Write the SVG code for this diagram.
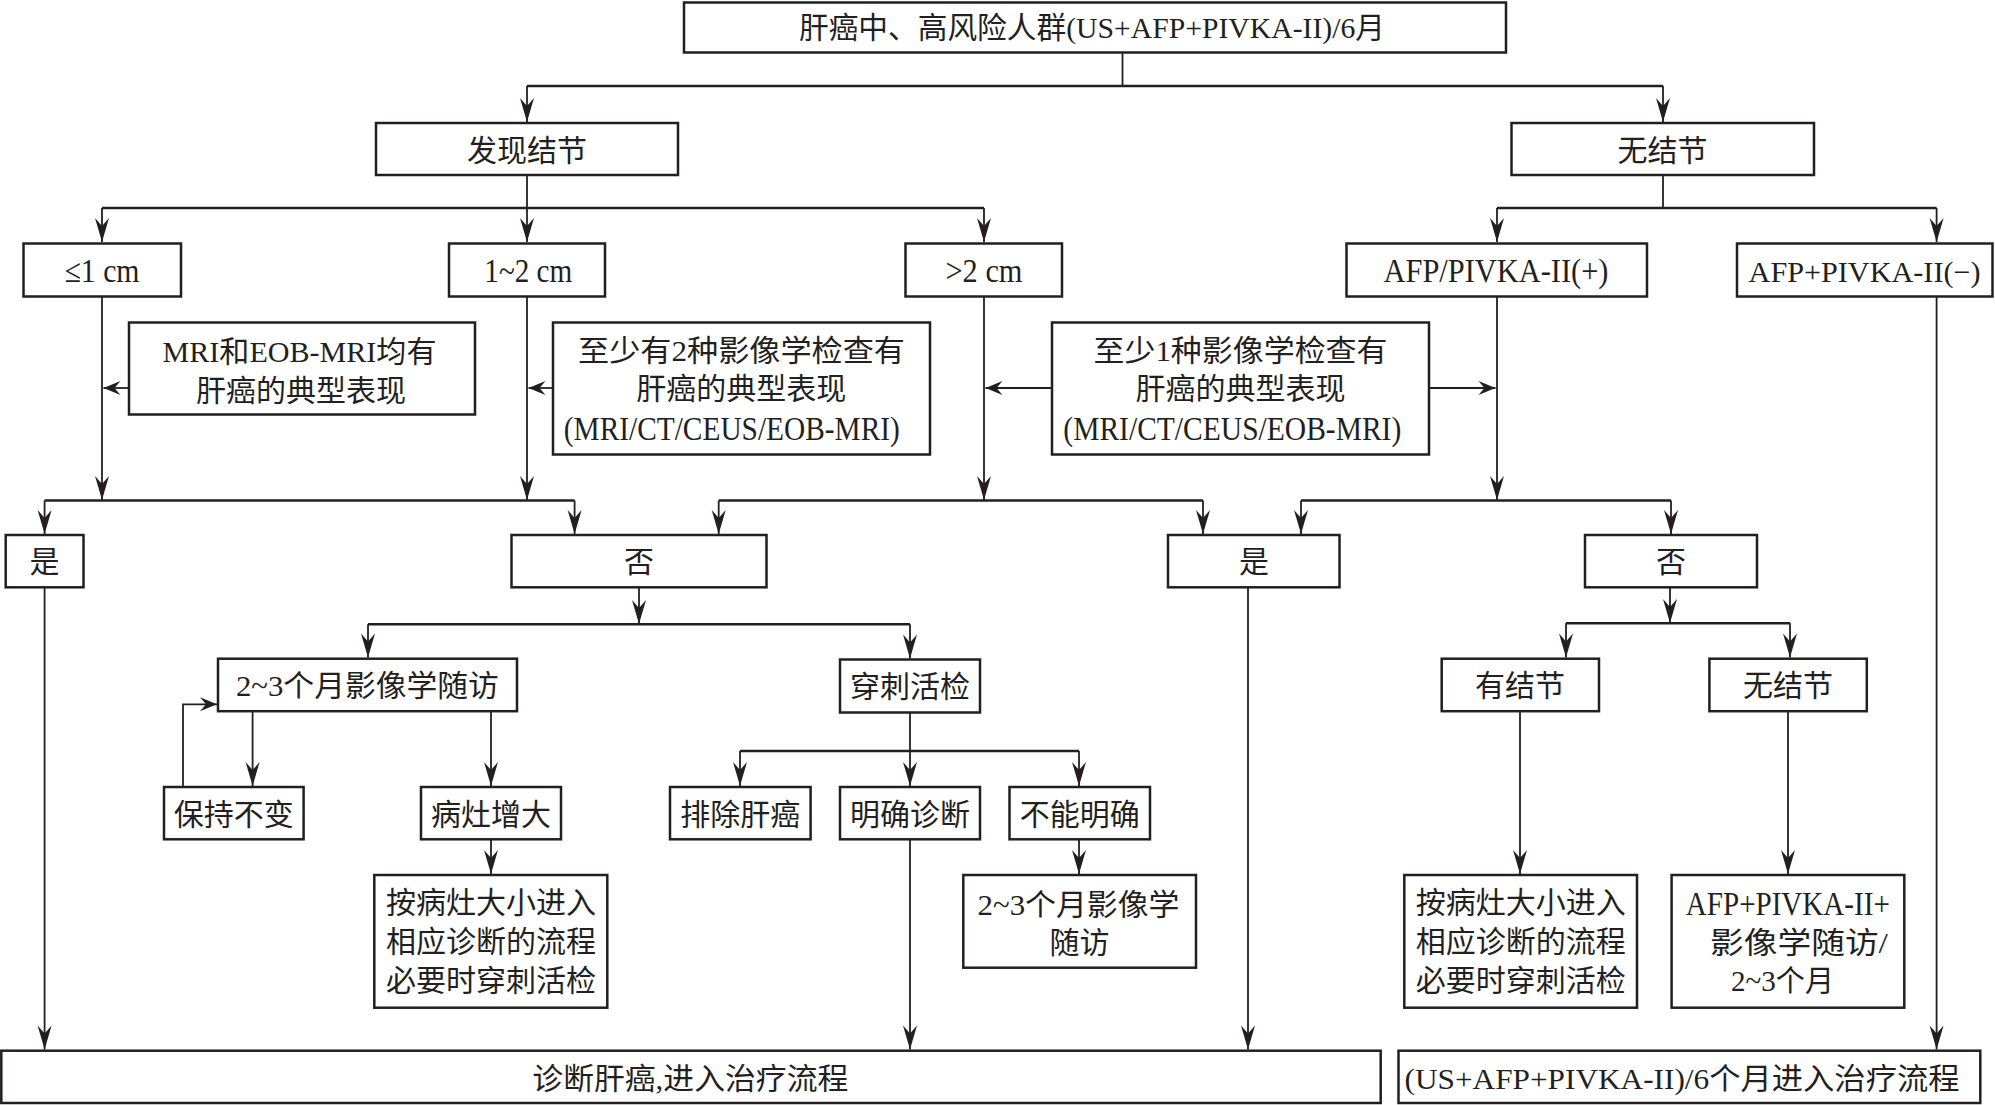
<svg xmlns="http://www.w3.org/2000/svg" width="1995" height="1105" viewBox="0 0 1995 1105">
<style>
.box{fill:#fff;stroke:#231f20;stroke-width:2.5}
.t{font-family:"Liberation Serif","Noto Sans CJK SC",serif;font-size:30px;fill:#231f20;text-anchor:middle}
.L{font-size:33px}
.c{fill:none;stroke:#231f20;stroke-width:1.8}
.bus{fill:none;stroke:#231f20;stroke-width:2.6}
.a{marker-end:url(#ah)}
.h{marker-end:url(#ahs)}
</style>
<defs>
<marker id="ah" markerUnits="userSpaceOnUse" markerWidth="28" markerHeight="18" viewBox="-26 -9 28 18" refX="0" refY="0" orient="auto">
<path d="M0,0 L-24,-7 L-16,0 L-24,7 Z" fill="#231f20"/>
</marker>
<marker id="ahs" markerUnits="userSpaceOnUse" markerWidth="22" markerHeight="18" viewBox="-20 -9 22 18" refX="0" refY="0" orient="auto">
<path d="M0,0 L-17,-7 L-11,0 L-17,7 Z" fill="#231f20"/>
</marker>
</defs>

<g id="connectors">
<path class="c" d="M1122.5,52.5 V86"/>
<path class="bus" d="M527,86 H1663"/>
<path class="c a" d="M527,86 V122"/>
<path class="c a" d="M1663,86 V122"/>

<path class="c" d="M527,175 V208"/>
<path class="bus" d="M102,208 H984"/>
<path class="c a" d="M102,208 V242"/>
<path class="c a" d="M527,208 V242"/>
<path class="c a" d="M984,208 V242"/>

<path class="c" d="M1663,175 V208"/>
<path class="bus" d="M1497,208 H1936.6"/>
<path class="c a" d="M1497,208 V242"/>
<path class="c a" d="M1936.6,208 V242"/>

<path class="c a" d="M102,297 V500"/>
<path class="c a" d="M527,297 V500"/>
<path class="c a" d="M984,297 V500"/>
<path class="c a" d="M1497,297 V500"/>

<path class="c h" d="M129,388 H103.5"/>
<path class="c h" d="M553,388 H528.5"/>
<path class="c h" d="M1052,388 H985.5"/>
<path class="c h" d="M1429,388 H1495.5"/>

<path class="bus" d="M44.6,500.5 H574.6"/>
<path class="c a" d="M44.6,500.5 V534"/>
<path class="c a" d="M574.6,500.5 V534"/>
<path class="bus" d="M718.7,500.5 H1203"/>
<path class="c a" d="M718.7,500.5 V534"/>
<path class="c a" d="M1203,500.5 V534"/>
<path class="bus" d="M1301,500.5 H1671"/>
<path class="c a" d="M1301,500.5 V534"/>
<path class="c a" d="M1671,500.5 V534"/>

<path class="c a" d="M1936.6,297 V1049.5"/>
<path class="c a" d="M44.6,587.5 V1049.5"/>
<path class="c a" d="M1248,587.5 V1049.5"/>

<path class="c a" d="M639,587.5 V624"/>
<path class="bus" d="M368,624.3 H910"/>
<path class="c a" d="M368,624.3 V657.5"/>
<path class="c a" d="M910,624.3 V658.5"/>

<path class="c a" d="M1670,587.5 V623"/>
<path class="bus" d="M1566,623.3 H1790"/>
<path class="c a" d="M1566,623.3 V657.5"/>
<path class="c a" d="M1790,623.3 V657.5"/>

<path class="c a" d="M252.6,711.5 V786"/>
<path class="c a" d="M491,711.5 V786"/>
<path class="c h" d="M183,787 V704.3 H217"/>
<path class="c a" d="M491,839.5 V874"/>

<path class="c" d="M910,712.5 V751"/>
<path class="bus" d="M740,751 H1079"/>
<path class="c a" d="M740,751 V786"/>
<path class="c a" d="M910,751 V786"/>
<path class="c a" d="M1079,751 V786"/>
<path class="c a" d="M910,839.5 V1049.5"/>
<path class="c a" d="M1079,839.5 V874"/>

<path class="c a" d="M1520,711.5 V874"/>
<path class="c a" d="M1788,711.5 V874"/>
</g>

<g id="n-top"><rect class="box" x="684" y="2.5" width="822" height="50"/>
<text class="t" x="1092" y="38" textLength="586" lengthAdjust="spacingAndGlyphs">肝癌中、高风险人群(US+AFP+PIVKA-II)/6月</text></g>

<g id="n-found"><rect class="box" x="376" y="123" width="302" height="52"/>
<text class="t" x="527" y="160.5">发现结节</text></g>
<g id="n-none"><rect class="box" x="1511.5" y="123" width="302.5" height="52"/>
<text class="t" x="1662.5" y="160.5">无结节</text></g>

<g id="n-le1"><rect class="box" x="23.5" y="243.5" width="157.5" height="53"/>
<text class="t L" x="102" y="281.5" textLength="75" lengthAdjust="spacingAndGlyphs">≤1 cm</text></g>
<g id="n-1to2"><rect class="box" x="449" y="243.5" width="156" height="53"/>
<text class="t L" x="528.3" y="281.5" textLength="88" lengthAdjust="spacingAndGlyphs">1~2 cm</text></g>
<g id="n-gt2"><rect class="box" x="905.5" y="243.5" width="156.5" height="53"/>
<text class="t L" x="984" y="281.5" textLength="77" lengthAdjust="spacingAndGlyphs">&gt;2 cm</text></g>
<g id="n-pos"><rect class="box" x="1346.5" y="243.5" width="300.5" height="53"/>
<text class="t L" x="1496" y="281.5" textLength="225" lengthAdjust="spacingAndGlyphs">AFP/PIVKA-II(+)</text></g>
<g id="n-neg"><rect class="box" x="1737" y="243.5" width="255.5" height="53"/>
<text class="t" x="1864.6" y="281.5" textLength="232" lengthAdjust="spacingAndGlyphs">AFP+PIVKA-II(−)</text></g>

<g id="n-c1"><rect class="box" x="129" y="322.5" width="346" height="92"/>
<text class="t" x="299.5" y="362" textLength="274" lengthAdjust="spacingAndGlyphs">MRI和EOB-MRI均有</text>
<text class="t" x="301" y="400.7">肝癌的典型表现</text></g>
<g id="n-c2"><rect class="box" x="553" y="322.5" width="377" height="132"/>
<text class="t" x="741.5" y="360.5" textLength="327" lengthAdjust="spacingAndGlyphs">至少有2种影像学检查有</text>
<text class="t" x="741.3" y="399">肝癌的典型表现</text>
<text class="t L" x="731.8" y="440" textLength="336" lengthAdjust="spacingAndGlyphs">(MRI/CT/CEUS/EOB-MRI)</text></g>
<g id="n-c3"><rect class="box" x="1052" y="322.5" width="377" height="132"/>
<text class="t" x="1240.5" y="360.5" textLength="294" lengthAdjust="spacingAndGlyphs">至少1种影像学检查有</text>
<text class="t" x="1240.4" y="399">肝癌的典型表现</text>
<text class="t L" x="1232.3" y="440" textLength="338" lengthAdjust="spacingAndGlyphs">(MRI/CT/CEUS/EOB-MRI)</text></g>

<g id="n-yes1"><rect class="box" x="5.7" y="535" width="77.8" height="52.3"/>
<text class="t" x="44.6" y="572">是</text></g>
<g id="n-no1"><rect class="box" x="511.5" y="535" width="255" height="52.3"/>
<text class="t" x="639" y="572">否</text></g>
<g id="n-yes2"><rect class="box" x="1168" y="535" width="171.5" height="52.3"/>
<text class="t" x="1254" y="572">是</text></g>
<g id="n-no2"><rect class="box" x="1585" y="535" width="172" height="52.3"/>
<text class="t" x="1671" y="572">否</text></g>

<g id="n-follow"><rect class="box" x="218" y="658.7" width="299" height="52.5"/>
<text class="t" x="367.4" y="696" textLength="263" lengthAdjust="spacingAndGlyphs">2~3个月影像学随访</text></g>
<g id="n-biopsy"><rect class="box" x="840" y="659.5" width="140" height="53"/>
<text class="t" x="910" y="697">穿刺活检</text></g>
<g id="n-hasnod"><rect class="box" x="1441.7" y="658.7" width="157.3" height="52.5"/>
<text class="t" x="1520" y="696">有结节</text></g>
<g id="n-nonod"><rect class="box" x="1709.4" y="658.7" width="157.4" height="52.5"/>
<text class="t" x="1788" y="696">无结节</text></g>

<g id="n-stable"><rect class="box" x="164" y="787" width="139.6" height="52.3"/>
<text class="t" x="233.8" y="824.5">保持不变</text></g>
<g id="n-grow"><rect class="box" x="421" y="787" width="140" height="52.3"/>
<text class="t" x="491" y="824.5">病灶增大</text></g>
<g id="n-excl"><rect class="box" x="670" y="787" width="140.6" height="52.3"/>
<text class="t" x="740.3" y="824.5">排除肝癌</text></g>
<g id="n-diag"><rect class="box" x="840" y="787" width="140" height="52.3"/>
<text class="t" x="910" y="824.5">明确诊断</text></g>
<g id="n-unclear"><rect class="box" x="1009.5" y="787" width="140.5" height="52.3"/>
<text class="t" x="1079.7" y="824.5">不能明确</text></g>

<g id="n-size1"><rect class="box" x="374.3" y="875" width="233" height="132.7"/>
<text class="t" x="491" y="912.5">按病灶大小进入</text>
<text class="t" x="491" y="952">相应诊断的流程</text>
<text class="t" x="491" y="991">必要时穿刺活检</text></g>
<g id="n-follow2"><rect class="box" x="963.3" y="875" width="232.7" height="92.7"/>
<text class="t" x="1078.5" y="915" textLength="202" lengthAdjust="spacingAndGlyphs">2~3个月影像学</text>
<text class="t" x="1079.5" y="953">随访</text></g>
<g id="n-size2"><rect class="box" x="1404.3" y="875" width="232.7" height="132.7"/>
<text class="t" x="1520.7" y="912.5">按病灶大小进入</text>
<text class="t" x="1520.7" y="952">相应诊断的流程</text>
<text class="t" x="1520.7" y="991">必要时穿刺活检</text></g>
<g id="n-afp"><rect class="box" x="1671.6" y="875" width="232.7" height="132.7"/>
<text class="t L" x="1787.8" y="915" textLength="204" lengthAdjust="spacingAndGlyphs">AFP+PIVKA-II+</text>
<text class="t" x="1799" y="953" textLength="178" lengthAdjust="spacingAndGlyphs">影像学随访/</text>
<text class="t" x="1782.5" y="991" textLength="103" lengthAdjust="spacingAndGlyphs">2~3个月</text></g>

<g id="n-treat"><rect class="box" x="1.3" y="1050.7" width="1379.4" height="52.3"/>
<text class="t" x="690.3" y="1088.5" textLength="316" lengthAdjust="spacingAndGlyphs">诊断肝癌,进入治疗流程</text></g>
<g id="n-resurv"><rect class="box" x="1398.5" y="1050.7" width="581.8" height="52.3"/>
<text class="t" x="1682" y="1088.5" textLength="555" lengthAdjust="spacingAndGlyphs">(US+AFP+PIVKA-II)/6个月进入治疗流程</text></g>
</svg>
